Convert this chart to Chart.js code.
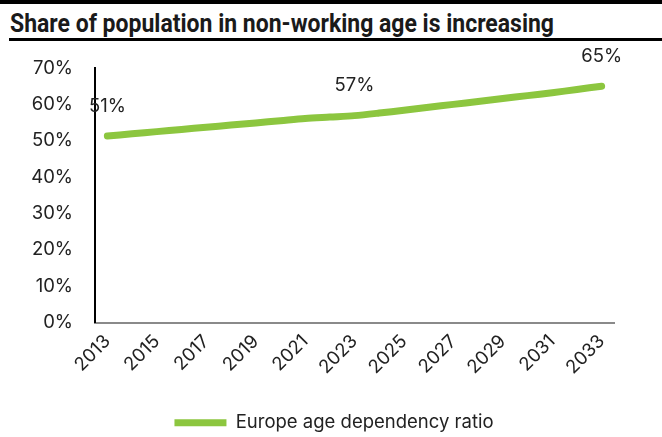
<!DOCTYPE html>
<html>
<head>
<meta charset="utf-8">
<script src="https://cdn.jsdelivr.net/npm/chart.js@4.4.1/dist/chart.umd.min.js"></script>
<style>
  body { margin: 0; background: #fff; width: 662px; height: 437px; position: relative; overflow: hidden; }
  #topbar { position: absolute; left: 0; top: 0; width: 662px; height: 4px; background: #000; }
  #title { position: absolute; left: 10px; top: 11px; font: bold 25px/25px Roboto, sans-serif; color: #1a1a1a;
           white-space: nowrap; transform-origin: left top; }
  #rule { position: absolute; left: 9px; top: 38px; width: 653px; height: 3px; background: #000; }
  #wrap { position: absolute; left: 0; top: 42px; width: 662px; height: 400px; }
</style>
</head>
<body>
<div id="topbar"></div>
<div id="title">Share of population in non-working age is increasing</div>
<div id="rule"></div>
<div id="wrap"><canvas id="chart"></canvas></div>
<script>
// Années (une valeur par an, une étiquette sur deux affichée)
const years = ['2013', '2014', '2015', '2016', '2017', '2018', '2019', '2020', '2021', '2022', '2023',
               '2024', '2025', '2026', '2027', '2028', '2029', '2030', '2031', '2032', '2033'];
// Ratio de dépendance (%)
const ratio = [51.3, 51.9, 52.5, 53.1, 53.7, 54.3, 54.9, 55.5, 56.1, 56.5, 56.9,
               57.6, 58.4, 59.2, 60.0, 60.8, 61.6, 62.4, 63.2, 64.1, 65.0];
const labelledYears = ['2013', '2023', '2033'];
const seriesName = 'Europe age dependency ratio';

const green = '#8cc63f';
const textColor = '#222222';
const fontFamily = 'Inter, sans-serif';
const fontSize = 18.5;

// Ajuster la largeur du titre (police condensée dans l'original)
const title = document.getElementById('title');
const tw = title.getBoundingClientRect().width;
title.style.transform = 'scaleX(' + (544 / tw) + ')';

// Étiquettes de valeurs au-dessus de certains points
const valueLabels = {
    id: 'valueLabels',
    afterDatasetsDraw(chart) {
        const ctx = chart.ctx;
        const meta = chart.getDatasetMeta(0);
        ctx.save();
        ctx.font = fontSize + 'px ' + fontFamily;
        ctx.fillStyle = textColor;
        ctx.textAlign = 'center';
        ctx.textBaseline = 'middle';
        meta.data.forEach((pt, i) => {
            if (!labelledYears.includes(years[i])) return;
            ctx.fillText(Math.round(ratio[i]) + '%', pt.x, pt.y - 30);
        });
        ctx.restore();
    }
};

// Décaler la légende pour la centrer comme dans l'original
const legendShift = {
    id: 'legendShift',
    afterLayout(chart) {
        if (chart.legend) chart.legend.left += 54;
    }
};

new Chart(document.getElementById('chart').getContext('2d'), {
    type: 'line',
    data: {
        labels: years,
        datasets: [{
            label: seriesName,
            data: ratio,
            borderColor: green,
            backgroundColor: green,
            borderWidth: 7,
            borderCapStyle: 'round',
            borderJoinStyle: 'round',
            pointRadius: 0,
            fill: false,
            tension: 0.3
        }]
    },
    options: {
        responsive: true,
        maintainAspectRatio: false,
        animation: false,
        layout: { padding: { top: 26, right: 48, left: 0, bottom: 0 } },
        plugins: {
            legend: {
                position: 'bottom',
                labels: {
                    usePointStyle: true,
                    pointStyle: 'line',
                    pointStyleWidth: 52,
                    padding: 1,
                    color: textColor,
                    font: { family: fontFamily, size: fontSize }
                }
            },
            tooltip: { enabled: false }
        },
        scales: {
            x: {
                offset: true,
                grid: { display: false, drawTicks: false },
                border: { display: true, color: '#8a8a8a', width: 2 },
                ticks: {
                    autoSkip: false,
                    minRotation: 45,
                    maxRotation: 45,
                    padding: 8,
                    color: textColor,
                    font: { family: fontFamily, size: fontSize },
                    callback: (v, i) => (i % 2 === 0 ? years[i] : '')
                },
                afterFit: (scale) => { scale.height = 90; }
            },
            y: {
                min: 0,
                max: 70,
                grid: { display: false, drawTicks: false },
                border: { display: true, color: '#000', width: 2 },
                ticks: {
                    stepSize: 10,
                    padding: 22,
                    color: textColor,
                    font: { family: fontFamily, size: fontSize },
                    callback: (v) => v + '%'
                },
                afterFit: (scale) => {
                    scale.width = 95;
                    scale.paddingTop = 0;
                    scale.paddingBottom = 0;
                }
            }
        }
    },
    plugins: [valueLabels, legendShift]
});
</script>
</body>
</html>
